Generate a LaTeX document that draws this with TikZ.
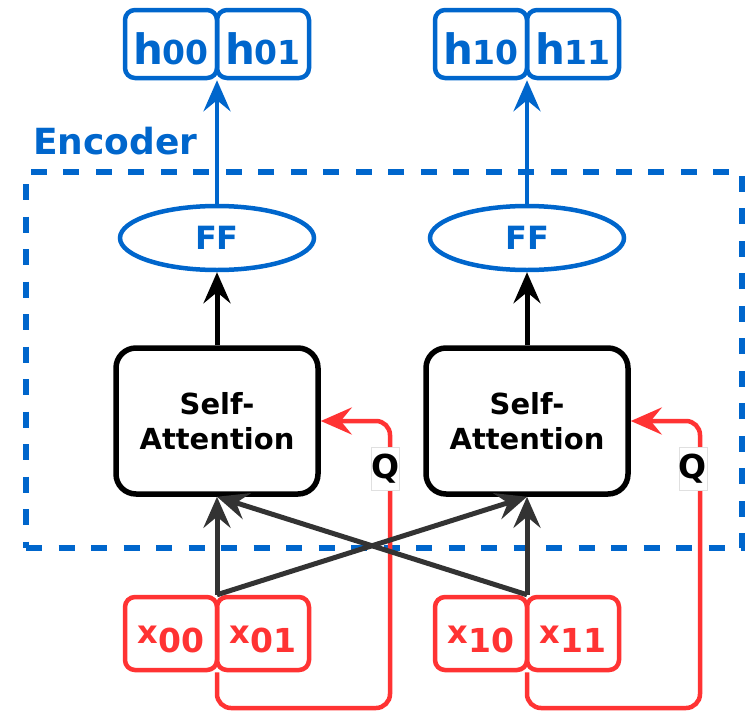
\documentclass[tikz,border=0pt]{standalone}
\usepackage{fontspec}
\setmainfont{DejaVu Sans}
\usetikzlibrary{arrows.meta,shapes.geometric,calc}
\definecolor{encblue}{RGB}{0,102,204}
\definecolor{inred}{RGB}{255,51,51}
\definecolor{linkgray}{RGB}{51,51,51}

% token labels: big letter followed by a two-digit index
\newcommand\outlab[2]{{\fontsize{42}{42}\selectfont #1}{\fontsize{33}{33}\selectfont #2}}
\newcommand\inlab[2]{{\fontsize{32}{32}\selectfont\raisebox{9pt}{#1}}{\fontsize{33}{33}\selectfont #2}}

\begin{document}
\begin{tikzpicture}[x=1pt,y=-1pt,
  tip/.style={-{Stealth[length=31pt,width=27pt,inset=11pt]}},
  outbox/.style={draw=encblue, line width=4.5pt, rounded corners=10pt,
    minimum width=92pt, minimum height=68pt, inner sep=0pt,
    text=encblue, font=\bfseries, text height=41pt, text depth=0pt},
  inbox/.style={draw=inred, line width=4.5pt, rounded corners=10pt,
    minimum width=92pt, minimum height=73pt, inner sep=0pt,
    text=inred, font=\bfseries, text height=38pt, text depth=0pt},
  attn/.style={draw=black, line width=5.5pt, rounded corners=20pt,
    minimum width=202pt, minimum height=146pt, inner sep=0pt, align=center,
    font=\bfseries\fontsize{29}{35}\selectfont},
  ffnode/.style={ellipse, draw=encblue, line width=4.5pt, minimum width=194pt,
    minimum height=64pt, inner sep=0pt, text=encblue,
    font=\bfseries\fontsize{32}{32}\selectfont},
  encframe/.style={draw=encblue, line width=6pt, dash pattern=on 16pt off 16.5pt,
    minimum width=716pt, minimum height=376pt, inner sep=0pt},
  qtag/.style={fill=white, draw=black!12, line width=0.8pt, minimum width=28pt,
    minimum height=43pt, inner sep=0pt, font=\bfseries\fontsize{33}{33}\selectfont},
  blueline/.style={draw=encblue, line width=4.5pt},
  grayline/.style={draw=linkgray, line width=5pt},
  blackline/.style={draw=black, line width=5pt},
  redline/.style={draw=inred, line width=4.5pt, rounded corners=14pt}
]
\useasboundingbox (0,0) rectangle (746,712);

% encoder frame and its title
\node[encframe] (enc) at (384,360) {};
\node[anchor=base west, inner sep=0pt, text=encblue,
      font=\bfseries\fontsize{36}{36}\selectfont] (enctitle) at (33,154) {Encoder};

% outputs
\node[outbox] (h00) at (171,44) {\outlab{h}{00}};
\node[outbox] (h01) at (263,44) {\outlab{h}{01}};
\node[outbox] (h10) at (481,44) {\outlab{h}{10}};
\node[outbox] (h11) at (573,44) {\outlab{h}{11}};

% feed-forward layers
\node[ffnode] (ff1) at (217,238) {FF};
\node[ffnode] (ff2) at (527,238) {FF};

% self-attention blocks
\node[attn] (sa1) at (217,421) {Self-\\Attention};
\node[attn] (sa2) at (527,421) {Self-\\Attention};

% inputs
\node[inbox] (x00) at (171,633.5) {\inlab{x}{00}};
\node[inbox] (x01) at (263,633.5) {\inlab{x}{01}};
\node[inbox] (x10) at (481,633.5) {\inlab{x}{10}};
\node[inbox] (x11) at (573,633.5) {\inlab{x}{11}};

% junctions between the paired input boxes
\coordinate (top1) at ($(x00.north east)!0.5!(x01.north west)$);
\coordinate (top2) at ($(x10.north east)!0.5!(x11.north west)$);
\coordinate (bot1) at ($(x00.south east)!0.5!(x01.south west)$);
\coordinate (bot2) at ($(x10.south east)!0.5!(x11.south west)$);
\coordinate (loop1) at (390,708);
\coordinate (loop2) at (700,708);

% query loops
\draw[redline, tip] (bot1) |- (loop1) |- (sa1.east);
\draw[redline, tip] (bot2) |- (loop2) |- (sa2.east);
\node[qtag] (q1) at (385.5,469) {Q};
\node[qtag] (q2) at (693,469) {Q};

% inputs to self-attention
\draw[grayline, tip] (top1) -- (sa1.south);
\draw[grayline, tip] (top2) -- (sa1.south);
\draw[grayline, tip] (top1) -- (sa2.south);
\draw[grayline, tip] (top2) -- (sa2.south);

% self-attention to feed-forward
\draw[blackline, tip] (sa1.north) -- (ff1.south);
\draw[blackline, tip] (sa2.north) -- (ff2.south);

% feed-forward to outputs
\draw[blueline, tip] (ff1.north) -- (ff1.north |- h00.south);
\draw[blueline, tip] (ff2.north) -- (ff2.north |- h10.south);
\end{tikzpicture}
\end{document}
